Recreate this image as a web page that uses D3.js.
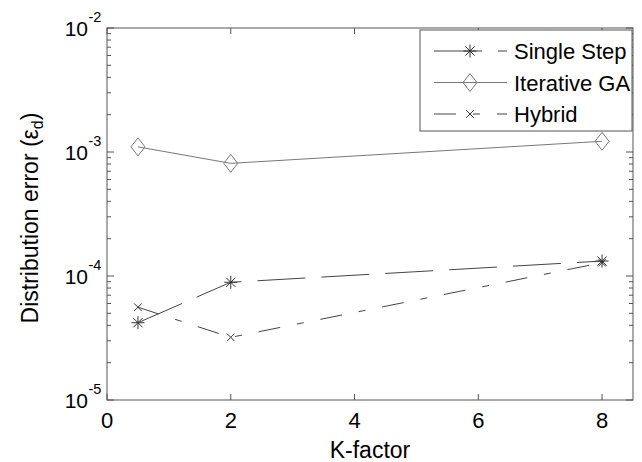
<!DOCTYPE html>
<html>
<head>
<meta charset="utf-8">
<script src="https://cdn.jsdelivr.net/npm/d3@7"></script>
<style>
  body { margin: 0; background: #fff; }
  svg { font-family: "Liberation Sans", Arial, sans-serif; }
</style>
</head>
<body>
<svg id="chart" width="642" height="462"></svg>
<script>
// datos
const kFactor = [0.5, 2, 8];
const singleStep = [4.2e-5, 8.9e-5, 1.32e-4];
const iterativeGA = [1.1e-3, 8.1e-4, 1.22e-3];
const hybrid = [5.6e-5, 3.2e-5, 1.28e-4];
const xTicks = [0, 2, 4, 6, 8];
const yExponents = [-2, -3, -4, -5];
const seriesNames = ["Single Step", "Iterative GA", "Hybrid"];

const svg = d3.select("#chart");
const mLeft = 107, mRight = 633, mTop = 28, mBottom = 400;

const x = d3.scaleLinear().domain([0, 8.5]).range([mLeft, mRight]);
const y = d3.scaleLog().domain([1e-5, 1e-2]).range([mBottom, mTop]);

const axisColor = "#555";

// ejes con ticks hacia adentro (estilo matlab)
const g = svg.append("g");
g.append("rect")
  .attr("x", mLeft).attr("y", mTop)
  .attr("width", mRight - mLeft).attr("height", mBottom - mTop)
  .attr("fill", "none").attr("stroke", axisColor).attr("stroke-width", 1);

xTicks.forEach(t => {
  g.append("line").attr("x1", x(t)).attr("x2", x(t))
    .attr("y1", mBottom).attr("y2", mBottom - 6).attr("stroke", axisColor);
  g.append("line").attr("x1", x(t)).attr("x2", x(t))
    .attr("y1", mTop).attr("y2", mTop + 6).attr("stroke", axisColor);
  g.append("text").attr("x", x(t)).attr("y", 428)
    .attr("text-anchor", "middle").attr("font-size", 22).text(t);
});

// ticks menores log
for (let e = -5; e < -2; e++) {
  for (let m = 2; m <= 9; m++) {
    const v = m * Math.pow(10, e);
    g.append("line").attr("x1", mLeft).attr("x2", mLeft + 4)
      .attr("y1", y(v)).attr("y2", y(v)).attr("stroke", axisColor);
    g.append("line").attr("x1", mRight).attr("x2", mRight - 4)
      .attr("y1", y(v)).attr("y2", y(v)).attr("stroke", axisColor);
  }
}

yExponents.forEach(e => {
  const yy = y(Math.pow(10, e));
  g.append("line").attr("x1", mLeft).attr("x2", mLeft + 7)
    .attr("y1", yy).attr("y2", yy).attr("stroke", axisColor);
  g.append("line").attr("x1", mRight).attr("x2", mRight - 7)
    .attr("y1", yy).attr("y2", yy).attr("stroke", axisColor);
  g.append("text").attr("x", 88).attr("y", yy + 8)
    .attr("text-anchor", "end").attr("font-size", 21).text("10");
  g.append("text").attr("x", 88.5).attr("y", yy - 6)
    .attr("text-anchor", "start").attr("font-size", 14.5).text(e);
});

// titulos de ejes
svg.append("text").attr("x", (mLeft + mRight) / 2).attr("y", 458)
  .attr("text-anchor", "middle").attr("font-size", 23).text("K-factor");

const yl = svg.append("text")
  .attr("transform", `translate(38,${(mTop + mBottom) / 2 + 4}) rotate(-90)`)
  .attr("text-anchor", "middle").attr("font-size", 23);
yl.append("tspan").text("Distribution error (ε");
yl.append("tspan").attr("font-size", 16).attr("dy", 5).text("d");
yl.append("tspan").attr("dy", -5).text(")");

// series
const series = [
  { name: seriesNames[0], values: singleStep, color: "#444", dash: "48,16", marker: "star" },
  { name: seriesNames[1], values: iterativeGA, color: "#777", dash: null, marker: "diamond" },
  { name: seriesNames[2], values: hybrid, color: "#444", dash: "22,17,7,17", marker: "cross" }
];

const line = d3.line().x(d => x(d[0])).y(d => y(d[1]));

function drawMarker(sel, type, cx, cy, color) {
  if (type === "star") {
    const r = 6.5, d = 4.6;
    const p = `M${cx - r},${cy}L${cx + r},${cy}M${cx},${cy - r}L${cx},${cy + r}` +
      `M${cx - d},${cy - d}L${cx + d},${cy + d}M${cx - d},${cy + d}L${cx + d},${cy - d}`;
    sel.append("path").attr("d", p).attr("stroke", "#333").attr("stroke-width", 1).attr("fill", "none");
  } else if (type === "diamond") {
    const w = 7, h = 9;
    sel.append("path")
      .attr("d", `M${cx},${cy - h}L${cx + w},${cy}L${cx},${cy + h}L${cx - w},${cy}Z`)
      .attr("stroke", color).attr("stroke-width", 1).attr("fill", "none");
  } else {
    const d = 3.8;
    sel.append("path")
      .attr("d", `M${cx - d},${cy - d}L${cx + d},${cy + d}M${cx - d},${cy + d}L${cx + d},${cy - d}`)
      .attr("stroke", "#333").attr("stroke-width", 1).attr("fill", "none");
  }
}

series.forEach(s => {
  const pts = kFactor.map((k, i) => [k, s.values[i]]);
  svg.append("path").datum(pts)
    .attr("d", line)
    .attr("fill", "none")
    .attr("stroke", s.color)
    .attr("stroke-width", 1)
    .attr("stroke-dasharray", s.dash);
  pts.forEach(p => drawMarker(svg, s.marker, x(p[0]), y(p[1]), s.color));
});

// leyenda
const leg = svg.append("g");
leg.append("rect").attr("x", 420).attr("y", 30).attr("width", 212).attr("height", 101)
  .attr("fill", "#fff").attr("stroke", axisColor).attr("stroke-width", 1);
series.forEach((s, i) => {
  const yy = 51 + i * 31.5;
  leg.append("line").attr("x1", 434).attr("x2", 507).attr("y1", yy).attr("y2", yy)
    .attr("stroke", s.color).attr("stroke-dasharray", s.dash);
  drawMarker(leg, s.marker, 470, yy, s.color);
  leg.append("text").attr("x", 514).attr("y", yy + 8)
    .attr("font-size", 22).text(s.name);
});
</script>
</body>
</html>
